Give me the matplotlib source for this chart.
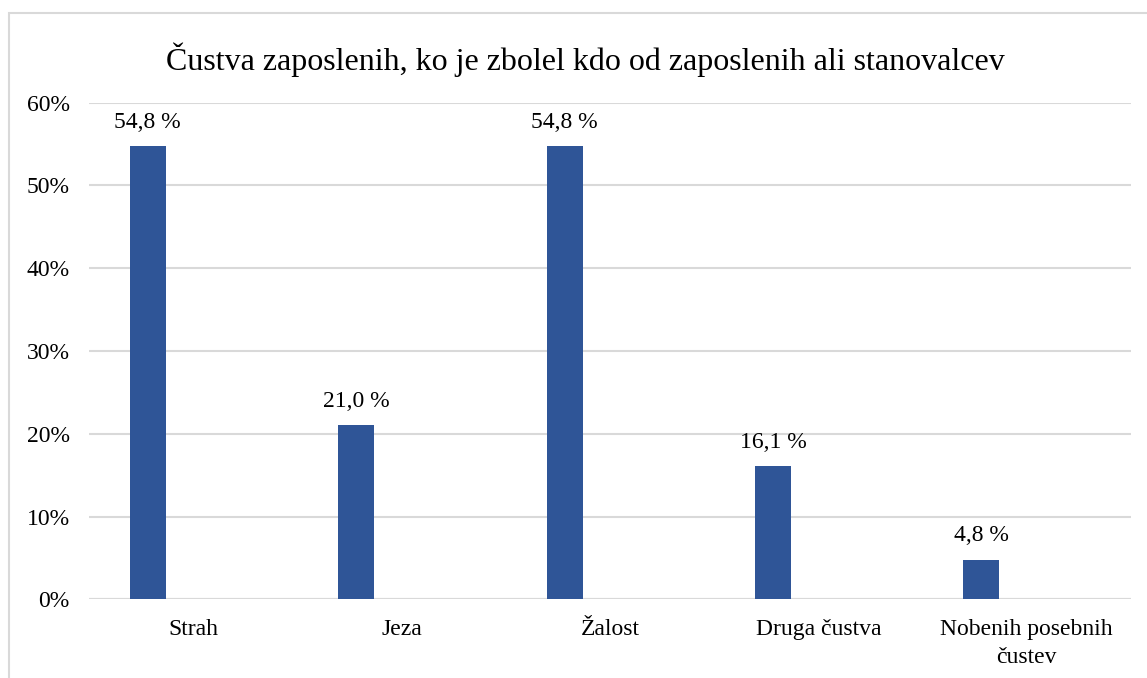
import matplotlib.pyplot as plt
import matplotlib.patches as patches
import numpy as np

plt.rcParams['font.family'] = ['Liberation Serif', 'DejaVu Serif']

categories = ['Strah', 'Jeza', 'Žalost', 'Druga čustva', 'Nobenih posebnih\nčustev']
values = [54.8, 21.0, 54.8, 16.1, 4.8]
value_labels = ['54,8 %', '21,0 %', '54,8 %', '16,1 %', '4,8 %']

W, H = 1147, 678
fig = plt.figure(figsize=(W / 100, H / 100), dpi=100)
ax = fig.add_axes([89 / W, 1 - 599.3 / H, (1131 - 89) / W, (599.3 - 102.7) / H])

# outer chart frame (cut off on right/bottom as in the original)
fig.patches.append(patches.Rectangle((8.5 / W, -0.05), 1.2, 1 - 12.5 / H + 0.05,
                                     transform=fig.transFigure, fill=False,
                                     edgecolor='#d9d9d9', linewidth=1.5))

x = np.arange(len(categories))
bar_w = 36 / 208.4
offset = -45.5 / 208.4
bars = ax.bar(x + offset, values, width=bar_w, color='#2f5597', zorder=3)

for b, lab in zip(bars, value_labels):
    ax.annotate(lab, (b.get_x() + b.get_width() / 2, b.get_height()),
                xytext=(0, 9.5), textcoords='offset points',
                ha='center', va='bottom', fontsize=17)

ax.set_xlim(-0.5, len(categories) - 0.5)
ax.set_ylim(0, 60)
ax.set_yticks(np.arange(0, 61, 10))
ax.set_yticklabels([f'{t}%' for t in range(0, 61, 10)], fontsize=17)
ax.set_xticks(x)
ax.set_xticklabels(categories, fontsize=17, linespacing=1.45)
ax.tick_params(axis='y', length=0, pad=14)
ax.tick_params(axis='x', length=0, pad=14)
ax.yaxis.grid(True, color='#d9d9d9', linewidth=1.5, zorder=0)
for s in ax.spines.values():
    s.set_visible(False)
ax.axhline(0, color='#d9d9d9', linewidth=1.5, zorder=1)

fig.text(585 / W, 1 - 60 / H, 'Čustva zaposlenih, ko je zbolel kdo od zaposlenih ali stanovalcev',
         ha='center', va='center', fontsize=23)

fig.savefig('out.png', dpi=100)
